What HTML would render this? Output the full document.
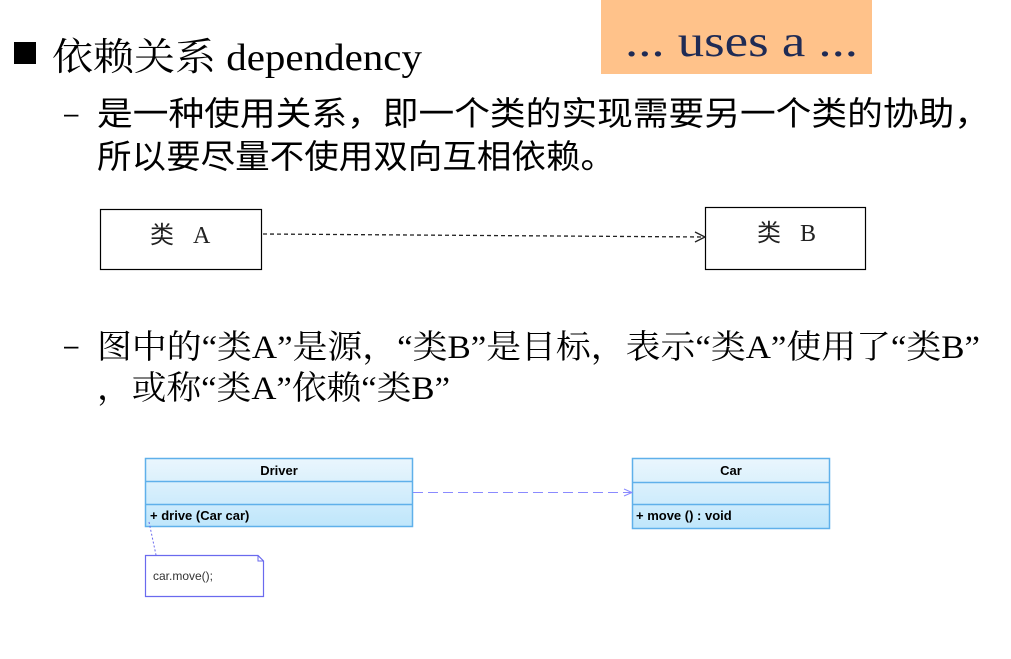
<!DOCTYPE html>
<html><head><meta charset="utf-8"><style>
html,body{margin:0;padding:0;background:#fff;width:1011px;height:659px;overflow:hidden}
text{font-family:"Liberation Serif","Noto Serif CJK SC","Noto Sans CJK SC",serif;fill:#000}
.s{font-family:"Liberation Sans","Noto Sans CJK SC",sans-serif}
</style></head><body>
<svg width="1011" height="659" viewBox="0 0 1011 659" xmlns="http://www.w3.org/2000/svg">
<defs>
<linearGradient id="g" x1="0" y1="0" x2="0" y2="1"><stop offset="0" stop-color="#eaf6fd"/><stop offset="1" stop-color="#bfe6fb"/></linearGradient>
</defs>
<rect x="601" y="0" width="271" height="74" fill="#FFC28A"/>
<text x="625" y="56" font-size="44" textLength="233" lengthAdjust="spacingAndGlyphs" style="fill:#1F2B55">... uses a ...</text>
<rect x="14" y="42" width="22" height="22" fill="#000"/>
<text x="52" y="70" font-size="38" textLength="370" lengthAdjust="spacingAndGlyphs">依赖关系 dependency</text>
<text x="64" y="122" font-size="26" class="s">–</text>
<text x="97" y="125" font-size="33" class="s" textLength="893" lengthAdjust="spacingAndGlyphs">是一种使用关系，即一个类的实现需要另一个类的协助，</text>
<text x="97" y="168" font-size="33" class="s" textLength="518" lengthAdjust="spacingAndGlyphs">所以要尽量不使用双向互相依赖。</text>
<rect x="100.5" y="209.5" width="161" height="60" fill="none" stroke="#000" stroke-width="1.2"/>
<rect x="705.5" y="207.5" width="160" height="62" fill="none" stroke="#000" stroke-width="1.2"/>
<text x="150" y="243" font-size="24" class="s" style="fill:#222">类</text>
<text x="193" y="243" font-size="24" style="fill:#222">A</text>
<text x="757" y="241" font-size="24" class="s" style="fill:#222">类</text>
<text x="800" y="241" font-size="24" style="fill:#222">B</text>
<line x1="263" y1="234" x2="704" y2="237" stroke="#222" stroke-width="1.3" stroke-dasharray="4,3"/>
<polyline points="695,232 705,237 695,242" fill="none" stroke="#222" stroke-width="1.3"/>
<text x="64" y="354" font-size="26" class="s">–</text>
<text x="97" y="358" font-size="33" textLength="883" lengthAdjust="spacingAndGlyphs">图中的“类A”是源，“类B”是目标，表示“类A”使用了“类B”</text>
<text x="97" y="399" font-size="33" textLength="353" lengthAdjust="spacingAndGlyphs">，或称“类A”依赖“类B”</text>
<g stroke="#5fb0ea" stroke-width="1.5">
<rect x="145.5" y="458.5" width="267" height="68" fill="url(#g)"/>
<line x1="145" y1="481.5" x2="413" y2="481.5"/>
<line x1="145" y1="504.5" x2="413" y2="504.5"/>
<rect x="632.5" y="458.5" width="197" height="70" fill="url(#g)"/>
<line x1="632" y1="482.5" x2="830" y2="482.5"/>
<line x1="632" y1="504.5" x2="830" y2="504.5"/>
</g>
<text x="279" y="475" text-anchor="middle" class="s" font-size="13" font-weight="600">Driver</text>
<text x="731" y="475" text-anchor="middle" class="s" font-size="13" font-weight="600">Car</text>
<text x="150" y="520" class="s" font-size="13" font-weight="600">+ drive (Car car)</text>
<text x="636" y="520" class="s" font-size="13" font-weight="600">+ move ()  : void</text>
<line x1="413" y1="492.5" x2="631" y2="492.5" stroke="#8a8aff" stroke-width="1" stroke-dasharray="10,5"/>
<polyline points="624,489 632,492.5 624,496" fill="none" stroke="#8a8aff" stroke-width="1"/>
<line x1="149" y1="522" x2="156" y2="555" stroke="#6a6aee" stroke-width="1" stroke-dasharray="2,2"/>
<path d="M145.5 555.5 H258 L263.5 561 V596.5 H145.5 Z" fill="#fff" stroke="#6a6aee" stroke-width="1.2"/>
<path d="M258 555.5 V561 H263.5" fill="none" stroke="#6a6aee" stroke-width="1"/>
<text x="153" y="580" class="s" font-size="12" style="fill:#333">car.move();</text>
</svg>
</body></html>
